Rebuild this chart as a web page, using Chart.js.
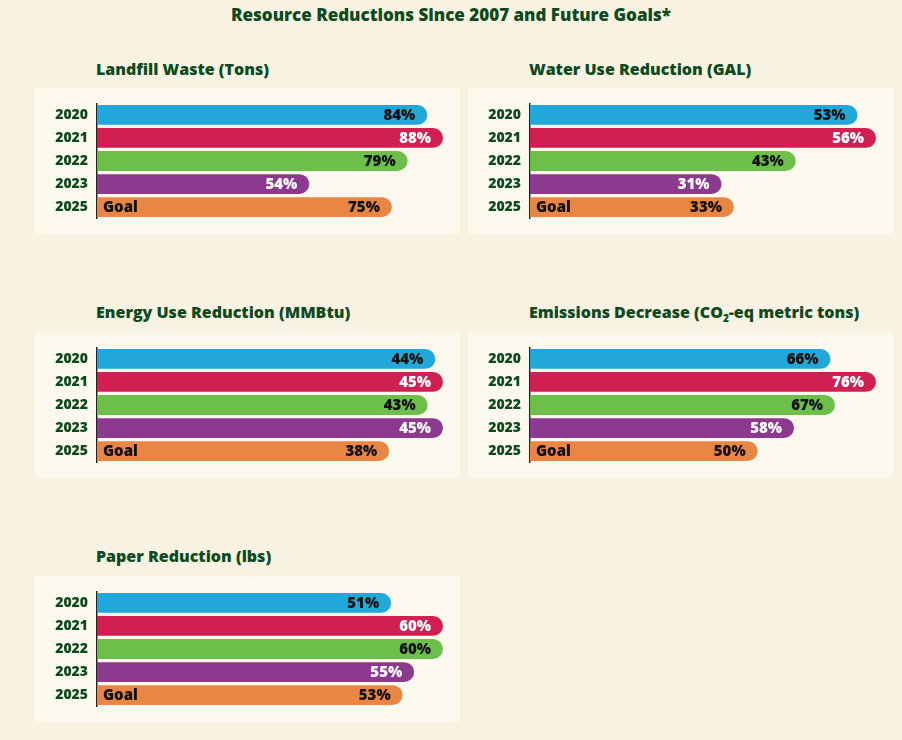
<!DOCTYPE html>
<html>
<head>
<meta charset="utf-8">
<script src="https://cdn.jsdelivr.net/npm/chart.js@4"></script>
<style>
  body { margin: 0; background: #f7f2e1; font-family: "Open Sans", sans-serif; }
  #wrap { position: relative; width: 902px; height: 740px; overflow: hidden; }
  .main { position: absolute; top: 3px; left: 0; width: 902px; text-align: center; font-weight: 800; font-size: 17px; color: #0f4a1e; }
  .ttl { position: absolute; font-weight: 800; font-size: 16px; color: #0f4a1e; white-space: nowrap; }
  .ttl sub { font-size: 10px; }
  .panel { position: absolute; width: 425px; height: 150px; }
  .bg { position: absolute; left: 0; top: 2px; width: 425px; height: 146px; background: #fbf8ee; }
  .panel canvas { position: absolute; left: 0; top: 0; }
</style>
</head>
<body>
<div id="wrap">
  <div class="main">Resource Reductions Since 2007 and Future Goals*</div>
</div>
<script>
// Datos de las cinco gráficas
const years = ['2020', '2021', '2022', '2023', '2025'];
const landfill = [84, 88, 79, 54, 75];
const water = [53, 56, 43, 31, 33];
const energy = [44, 45, 43, 45, 38];
const emissions = [66, 76, 67, 58, 50];
const paper = [51, 60, 60, 55, 53];

const barColors = ['#22a8d8', '#d01f52', '#6cc04a', '#8b3a8f', '#ea8644'];
const textColors = ['#111', '#fff', '#111', '#fff', '#111'];
const darkGreen = '#0f4a1e';

const panels = [
    { title: 'Landfill Waste (Tons)', data: landfill, x: 35, y: 86, tx: 96, ty: 58 },
    { title: 'Water Use Reduction (GAL)', data: water, x: 468, y: 86, tx: 529, ty: 58 },
    { title: 'Energy Use Reduction (MMBtu)', data: energy, x: 35, y: 330, tx: 96, ty: 301 },
    { title: 'Emissions Decrease (CO<sub>2</sub>-eq metric tons)', data: emissions, x: 468, y: 330, tx: 529, ty: 301 },
    { title: 'Paper Reduction (lbs)', data: paper, x: 35, y: 574, tx: 96, ty: 545 }
];

const labelPlugin = {
    id: 'barLabels',
    afterDatasetsDraw(chart) {
        const ctx = chart.ctx;
        const meta = chart.getDatasetMeta(0);
        ctx.save();
        ctx.font = '800 15px "Open Sans"';
        ctx.textBaseline = 'middle';
        meta.data.forEach((bar, i) => {
            ctx.textAlign = 'right';
            ctx.fillStyle = textColors[i];
            ctx.fillText(chart.data.datasets[0].data[i] + '%', bar.x - 12, bar.y + 1);
            if (i === 4) {
                ctx.textAlign = 'left';
                ctx.fillStyle = '#111';
                ctx.fillText('Goal', chart.chartArea.left + 6, bar.y + 1);
            }
        });
        ctx.restore();
    }
};

function createPanel(p) {
    const wrap = document.getElementById('wrap');
    const t = document.createElement('div');
    t.className = 'ttl';
    t.style.left = p.tx + 'px';
    t.style.top = p.ty + 'px';
    t.innerHTML = p.title;
    wrap.appendChild(t);

    const div = document.createElement('div');
    div.className = 'panel';
    div.style.left = p.x + 'px';
    div.style.top = p.y + 'px';
    div.innerHTML = '<div class="bg"></div><canvas width="425" height="150"></canvas>';
    wrap.appendChild(div);

    const plotWidth = 425 - 62;
    const maxVal = Math.max(...p.data);
    new Chart(div.querySelector('canvas').getContext('2d'), {
        type: 'bar',
        data: {
            labels: years,
            datasets: [{
                data: p.data,
                backgroundColor: barColors,
                borderRadius: { topRight: 13, bottomRight: 13 },
                borderSkipped: 'start',
                barPercentage: 0.86,
                categoryPercentage: 1
            }]
        },
        options: {
            indexAxis: 'y',
            responsive: false,
            animation: false,
            layout: { padding: 0 },
            plugins: { legend: { display: false }, tooltip: { enabled: false } },
            scales: {
                x: { display: false, min: 0, max: maxVal * plotWidth / 346 },
                y: {
                    afterFit(scale) { scale.width = 62; },
                    grid: { display: false, drawTicks: false },
                    border: { display: true, color: '#222', width: 1.5 },
                    ticks: { color: darkGreen, padding: 9, font: { family: 'Open Sans', weight: '800', size: 14 } }
                }
            }
        },
        plugins: [labelPlugin]
    });
}

Chart.defaults.font.family = 'Open Sans';
panels.forEach(p => createPanel(p));
</script>
</body>
</html>
